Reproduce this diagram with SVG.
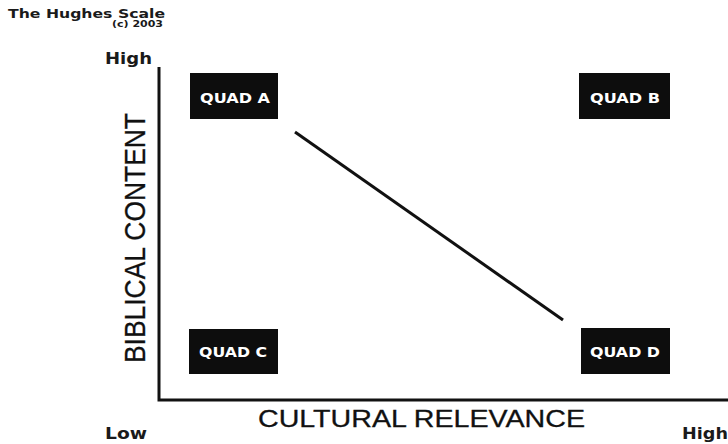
<svg xmlns="http://www.w3.org/2000/svg" width="728" height="444" viewBox="0 0 728 444">
<style>
.lbl{font-family:"DejaVu Sans","Liberation Sans",sans-serif;font-weight:bold;fill:#1a1a1a}
.axis{font-family:"Liberation Sans",Arial,sans-serif;fill:#111;stroke:#111;stroke-width:0.3}
.box{fill:#0d0d0d}
.qt{font-family:"DejaVu Sans","Liberation Sans",sans-serif;font-weight:bold;font-size:13.5px;fill:#fff;text-anchor:middle}
.ln{stroke:#111;stroke-width:3;fill:none}
</style>
<rect width="728" height="444" fill="#fff"/>
<text class="lbl" x="8" y="18" font-size="13" textLength="157" lengthAdjust="spacingAndGlyphs">The Hughes Scale</text>
<text class="lbl" x="112" y="27" font-size="8" textLength="51" lengthAdjust="spacingAndGlyphs">(c) 2003</text>
<text class="lbl" x="105" y="64" font-size="16" textLength="47" lengthAdjust="spacingAndGlyphs">High</text>
<text class="lbl" x="105" y="439" font-size="15" textLength="42" lengthAdjust="spacingAndGlyphs">Low</text>
<text class="lbl" x="682" y="439" font-size="15" textLength="46" lengthAdjust="spacingAndGlyphs">High</text>
<text class="axis" x="258" y="427" font-size="24" textLength="327" lengthAdjust="spacingAndGlyphs">CULTURAL RELEVANCE</text>
<text class="axis" transform="translate(145,238) rotate(-90)" x="0" y="0" font-size="30" text-anchor="middle" textLength="250" lengthAdjust="spacingAndGlyphs">BIBLICAL CONTENT</text>
<g id="axes">
<path class="ln" d="M159 67 V400 H728"/>
</g>
<g id="quad-a"><rect class="box" x="190" y="73" width="88" height="46"/><text class="qt" x="235" y="103" textLength="70" lengthAdjust="spacingAndGlyphs">QUAD A</text></g>
<g id="quad-b"><rect class="box" x="579" y="73" width="91" height="46"/><text class="qt" x="625" y="103" textLength="70" lengthAdjust="spacingAndGlyphs">QUAD B</text></g>
<g id="quad-c"><rect class="box" x="189" y="329" width="89" height="45"/><text class="qt" x="233" y="357" textLength="68" lengthAdjust="spacingAndGlyphs">QUAD C</text></g>
<g id="quad-d"><rect class="box" x="581" y="328" width="89" height="46"/><text class="qt" x="625" y="357" textLength="70" lengthAdjust="spacingAndGlyphs">QUAD D</text></g>
<g id="connectors">
<line class="ln" x1="295" y1="132" x2="563" y2="320"/>
</g>
</svg>
